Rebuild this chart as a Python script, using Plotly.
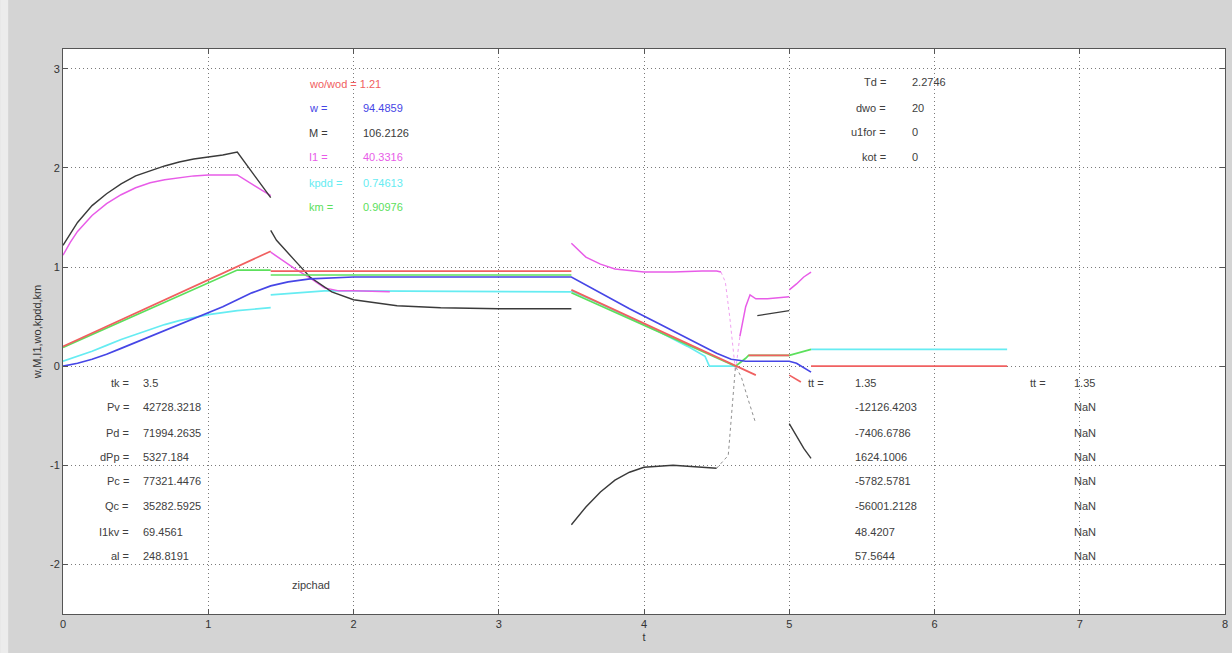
import plotly.graph_objects as go

# ---- time series (None separates solver segments) ----
t_M = [0, 0.05, 0.1, 0.2, 0.3, 0.4, 0.5, 0.6, 0.7, 0.8, 0.9, 1.0, 1.1, 1.2, 1.43, None,
       1.43, 1.47, 1.6, 1.7, 1.85, 2.0, 2.3, 2.6, 3.0, 3.5, None,
       3.5, 3.6, 3.7, 3.8, 3.9, 4.0, 4.2, 4.4, 4.5, None,
       4.78, 5.0, None,
       5.0, 5.05, 5.1, 5.15]
M = [1.22, 1.33, 1.45, 1.62, 1.74, 1.84, 1.92, 1.97, 2.02, 2.06, 2.09, 2.11, 2.13, 2.16, 1.70, None,
     1.37, 1.27, 1.06, 0.90, 0.75, 0.67, 0.61, 0.59, 0.58, 0.58, None,
     -1.60, -1.42, -1.27, -1.15, -1.07, -1.02, -1.00, -1.02, -1.03, None,
     0.51, 0.56, None,
     -0.58, -0.70, -0.83, -0.93]
# fast transient of M (sparse solver points)
t_M_fast = [4.5, 4.58, 4.63, 4.67, 4.72, 4.77]
M_fast = [-1.03, -0.90, 0.0, -0.11, -0.35, -0.58]

t_I1 = [0, 0.05, 0.1, 0.2, 0.3, 0.4, 0.5, 0.6, 0.7, 0.8, 0.9, 1.0, 1.2, 1.43, None,
        1.43, 1.5, 1.6, 1.7, 1.8, 1.9, 2.0, 2.25, None,
        3.5, 3.55, 3.6, 3.7, 3.8, 4.0, 4.2, 4.4, 4.5, 4.53, None,
        4.66, 4.7, 4.73, 4.77, 4.85, 5.0, None,
        5.0, 5.05, 5.1, 5.15]
I1 = [1.12, 1.25, 1.36, 1.52, 1.64, 1.73, 1.80, 1.85, 1.88, 1.90, 1.92, 1.93, 1.93, 1.72, None,
      1.15, 1.08, 0.98, 0.89, 0.79, 0.76, 0.76, 0.75, None,
      1.24, 1.17, 1.10, 1.03, 0.98, 0.95, 0.95, 0.96, 0.96, 0.95, None,
      0.30, 0.60, 0.72, 0.68, 0.68, 0.70, None,
      0.77, 0.83, 0.90, 0.95]
t_I1_fast = [4.53, 4.56, 4.59, 4.61, 4.63, 4.66]
I1_fast = [0.95, 0.85, 0.50, 0.20, -0.05, 0.30]

t_w = [0, 0.1, 0.2, 0.3, 0.4, 0.5, 0.6, 0.7, 0.8, 0.9, 1.0, 1.1, 1.2, 1.3, 1.43, 1.55, 1.7, 1.85,
       2.0, 3.5, 3.7, 3.9, 4.1, 4.3, 4.5, 4.6, 4.7, 5.0, 5.05, 5.15]
w = [0.0, 0.03, 0.07, 0.12, 0.18, 0.24, 0.30, 0.36, 0.42, 0.48, 0.54, 0.60, 0.67, 0.74, 0.81, 0.85,
     0.88, 0.89, 0.90, 0.90, 0.74, 0.58, 0.43, 0.28, 0.13, 0.07, 0.05, 0.05, 0.03, -0.06]

t_wo = [0, 1.43, None, 1.43, 3.5, None, 3.5, 4.63, 4.77, None, 4.72, 5.0, None,
        5.0, 5.08, None, 5.15, 6.5]
wo = [0.20, 1.16, None, 0.96, 0.96, None, 0.77, 0.0, -0.09, None, 0.11, 0.11, None,
      -0.09, -0.16, None, 0.0, 0.0]

t_kpdd = [0, 0.1, 0.2, 0.3, 0.4, 0.5, 0.6, 0.7, 0.8, 0.9, 1.0, 1.2, 1.43, None,
          1.43, 1.6, 1.8, 2.0, 3.5, None,
          3.5, 3.7, 3.9, 4.1, 4.3, 4.42, 4.45, 4.63, None,
          5.15, 6.5]
kpdd = [0.05, 0.10, 0.15, 0.21, 0.27, 0.32, 0.37, 0.42, 0.46, 0.49, 0.52, 0.56, 0.59, None,
        0.72, 0.74, 0.76, 0.76, 0.75, None,
        0.76, 0.63, 0.49, 0.35, 0.20, 0.10, 0.0, 0.0, None,
        0.17, 0.17]

t_km = [0, 1.2, 1.43, None, 1.43, 3.5, None, 3.5, 4.63, 4.7, 4.72, 5.0, 5.15]
km = [0.19, 0.97, 0.97, None, 0.92, 0.92, None, 0.74, 0.0, 0.08, 0.11, 0.11, 0.17]

# ---- text blocks ----
top_labels = ["wo/wod = 1.21", "w =", "M =", "I1 =", "kpdd =", "km ="]
top_values = ["", "94.4859", "106.2126", "40.3316", "0.74613", "0.90976"]
top_y = [2.85, 2.60, 2.35, 2.11, 1.85, 1.61]

par_labels = ["Td =", "dwo =", "u1for =", "kot ="]
par_values = ["2.2746", "20", "0", "0"]
par_y = [2.87, 2.60, 2.36, 2.11]

res_labels = ["tk =", "Pv =", "Pd =", "dPp =", "Pc =", "Qc =", "I1kv =", "al ="]
res_values = ["3.5", "42728.3218", "71994.2635", "5327.184", "77321.4476", "35282.5925",
              "69.4561", "248.8191"]
res_y = [-0.17, -0.41, -0.67, -0.92, -1.16, -1.41, -1.67, -1.91]

tt1_values = ["1.35", "-12126.4203", "-7406.6786", "1624.1006", "-5782.5781", "-56001.2128",
              "48.4207", "57.5644"]
tt2_values = ["1.35", "NaN", "NaN", "NaN", "NaN", "NaN", "NaN", "NaN"]

x_ticks = [0, 1, 2, 3, 4, 5, 6, 7, 8]
y_ticks = [-2, -1, 0, 1, 2, 3]

RED, BLUE, BLACK = "#f06060", "#4646e6", "#3a3a3a"
MAGENTA, CYAN, GREEN = "#e85ce8", "#66ecf2", "#5ce05c"
TXT = "#404040"
FONT = "Liberation Sans"

fig = go.Figure()
series = [
    (t_kpdd, kpdd, CYAN, 1.7, "solid"),
    (t_I1, I1, MAGENTA, 1.5, "solid"),
    (t_I1_fast, I1_fast, "#f0a0f0", 1.0, "dot"),
    (t_M, M, BLACK, 1.4, "solid"),
    (t_M_fast, M_fast, "#909090", 1.0, "dot"),
    (t_km, km, GREEN, 1.7, "solid"),
    (t_wo, wo, RED, 1.7, "solid"),
    (t_w, w, BLUE, 1.7, "solid"),
]
for xs, ys, col, lw, dash in series:
    fig.add_trace(go.Scatter(x=xs, y=ys, mode="lines", connectgaps=False,
                             line=dict(color=col, width=lw, dash=dash), hoverinfo="skip",
                             showlegend=False))

ann = []
top_cols = [RED, BLUE, BLACK, MAGENTA, CYAN, GREEN]
for lab, val, yy, col in zip(top_labels, top_values, top_y, top_cols):
    ann.append(dict(x=1.68, y=yy, text=lab, xanchor="left", font=dict(color=col)))
    if val:
        ann.append(dict(x=2.05, y=yy, text=val, xanchor="left", font=dict(color=col)))

for lab, val, yy in zip(par_labels, par_values, par_y):
    ann.append(dict(x=5.68, y=yy, text=lab, xanchor="right"))
    ann.append(dict(x=5.83, y=yy, text=val, xanchor="left"))

for lab, val, yy in zip(res_labels, res_values, res_y):
    ann.append(dict(x=0.47, y=yy, text=lab, xanchor="right"))
    ann.append(dict(x=0.54, y=yy, text=val, xanchor="left"))

for val, yy in zip(tt1_values, res_y):
    ann.append(dict(x=5.44, y=yy, text=val, xanchor="left"))
for val, yy in zip(tt2_values, res_y):
    ann.append(dict(x=6.95, y=yy, text=val, xanchor="left"))
ann.append(dict(x=5.25, y=res_y[0], text="tt =", xanchor="right"))
ann.append(dict(x=6.78, y=res_y[0], text="tt =", xanchor="right"))
ann.append(dict(x=1.71, y=-2.21, text="zipchad", xanchor="center"))

for a in ann:
    a.update(xref="x", yref="y", showarrow=False, yanchor="middle")
    f = dict(family=FONT, size=11, color=TXT)
    f.update(a.get("font", {}))
    a["font"] = f
fig.update_layout(annotations=ann)

axis_common = dict(showgrid=True, gridcolor="#7a7a7a", griddash="1px,3px", gridwidth=1.3,
                   showline=True, linecolor="#555555", linewidth=1, mirror="ticks",
                   ticks="inside", ticklen=5, tickcolor="#555555", zeroline=False,
                   tickfont=dict(family=FONT, size=11, color="#333333"))
fig.update_xaxes(range=[0, 8], tickvals=x_ticks, ticktext=[str(v) for v in x_ticks],
                 title=dict(text="t", font=dict(family=FONT, size=11, color="#333333"),
                            standoff=4), **axis_common)
fig.update_yaxes(range=[-2.5, 3.2], tickvals=y_ticks, ticktext=[str(v) for v in y_ticks],
                 title=dict(text="w,M,I1,wo,kpdd,km",
                            font=dict(family=FONT, size=11, color="#333333"), standoff=6),
                 **axis_common)

fig.update_layout(width=1232, height=653, margin=dict(l=63, r=4, t=49, b=39),
                  paper_bgcolor="#d4d4d4", plot_bgcolor="#ffffff")
fig.add_shape(type="rect", xref="paper", yref="paper", x0=-63 / 1165, x1=-55 / 1165,
              y0=-39 / 565, y1=1 + 49 / 565, fillcolor="#ececec", line_width=0, layer="below")

fig.write_html("out.html")
